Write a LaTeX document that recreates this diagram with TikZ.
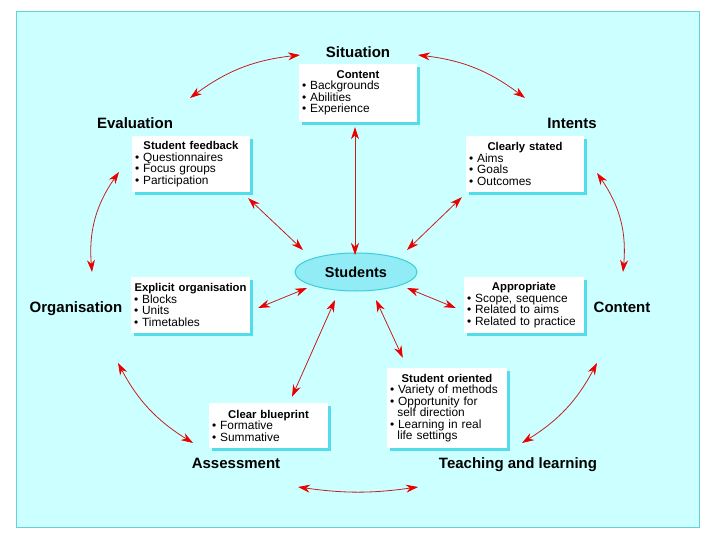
\documentclass[tikz,border=0pt]{standalone}
\usepackage{fontspec}
\setmainfont{Liberation Sans}
\usetikzlibrary{arrows.meta,shapes.geometric,shadows}
\definecolor{bgc}{RGB}{204,255,255}
\definecolor{framec}{RGB}{102,210,215}
\definecolor{shadc}{RGB}{85,220,235}
\definecolor{arrline}{RGB}{200,30,30}
\definecolor{arrhead}{RGB}{235,0,0}
\definecolor{ellfill}{RGB}{145,236,246}
\definecolor{elldraw}{RGB}{60,205,220}
\newcommand{\btitle}[1]{{\centering\bfseries\fontsize{11.3}{11.5}\selectfont #1\par}}
\newcommand{\bitem}[1]{\par\noindent\textbullet\ #1}
\newcommand{\bcont}[1]{\par\noindent\hspace*{0.62em}#1}
\begin{document}
\begin{tikzpicture}[x=1pt,y=-1pt,
  lab/.style={font=\fontsize{15}{18}\selectfont\bfseries, inner sep=0pt, text height=10.8pt, text depth=0pt},
  bx/.style={fill=white, inner sep=3pt, align=left, font=\fontsize{11.9}{11.5}\selectfont,
    drop shadow={shadow xshift=3pt, shadow yshift=-3pt, fill=shadc, opacity=1}},
  arr/.style={draw=arrline, line width=0.8pt,
    {Stealth[length=12pt,width=8pt,color=arrhead]}-{Stealth[length=12pt,width=8pt,color=arrhead]}}]
\useasboundingbox (0,0) rectangle (720,540);
\fill[white] (0,0) rectangle (720,540);
\draw[framec, fill=bgc, line width=1pt] (16,12) rectangle (699,527);

% labels
\node[lab] (sit) at (358,52) {Situation};
\node[lab] (eva) at (135,123) {Evaluation};
\node[lab] (int) at (572,123) {Intents};
\node[lab] (org) at (76,307) {Organisation};
\node[lab] (con) at (622,307) {Content};
\node[lab] (ass) at (236,463) {Assessment};
\node[lab] (tl) at (518,463) {Teaching and learning};

% boxes
\node[bx, text width=112pt, minimum height=58pt] (content) at (358,93)
  {\btitle{Content}\bitem{Backgrounds}\bitem{Abilities}\bitem{Experience}};
\node[bx, text width=112pt, minimum height=56pt] (fb) at (191,164)
  {\btitle{Student feedback}\bitem{Questionnaires}\bitem{Focus groups}\bitem{Participation}};
\node[bx, text width=112pt, minimum height=56pt] (cs) at (525,164)
  {\btitle{Clearly stated}\bitem{Aims}\bitem{Goals}\bitem{Outcomes}};
\node[bx, text width=113pt, minimum height=56pt] (eo) at (190.5,305)
  {\btitle{Explicit organisation}\bitem{Blocks}\bitem{Units}\bitem{Timetables}};
\node[bx, text width=114pt, minimum height=56pt] (ap) at (524,305)
  {\btitle{Appropriate}\bitem{Scope, sequence}\bitem{Related to aims}\bitem{Related to practice}};
\node[bx, text width=114pt, minimum height=80pt] (so) at (447,408)
  {\btitle{Student oriented}\bitem{Variety of methods}\bitem{Opportunity for}\bcont{self direction}\bitem{Learning in real}\bcont{life settings}};
\node[bx, text width=113pt, minimum height=45pt] (cb) at (268.5,425.5)
  {\btitle{Clear blueprint}\bitem{Formative}\bitem{Summative}};

% centre
\node[ellipse, fill=ellfill, draw=elldraw, line width=1pt, minimum width=122pt, minimum height=38pt,
  inner sep=0pt, font=\fontsize{14.5}{17}\selectfont\bfseries] (stu) at (356,272) {Students};

% inner arrows
\draw[arr] ([shift={(-3,5)}]content.south) -- ([shift={(-1,-17)}]stu.center);
\draw[arr] ([shift={(-2,6)}]fb.south east) -- ([shift={(-53,-22)}]stu.center);
\draw[arr] ([shift={(-4,5)}]cs.south west) -- ([shift={(51,-22)}]stu.center);
\draw[arr] ([shift={(8,3)}]eo.east) -- ([shift={(-49,16)}]stu.center);
\draw[arr] ([shift={(-8,3)}]ap.west) -- ([shift={(51,16)}]stu.center);
\draw[arr] ([shift={(16,-10)}]so.north west) -- ([shift={(20,28)}]stu.center);
\draw[arr] ([shift={(23.5,-6)}]cb.north) -- ([shift={(-21,28)}]stu.center);

% outer arcs
\draw[arr] ([shift={(55,-25)}]eva.center) to[bend left=15] ([shift={(-58,3)}]sit.center);
\draw[arr] ([shift={(60,3)}]sit.center) to[bend left=15] ([shift={(-47,-25)}]int.center);
\draw[arr] ([shift={(16,-35)}]org.center) to[bend left=20] ([shift={(-16,49)}]eva.center);
\draw[arr] ([shift={(25,50)}]int.center) to[bend left=20] ([shift={(1,-35)}]con.center);
\draw[arr] ([shift={(-43,-20)}]ass.center) to[bend left=15] ([shift={(42,56)}]org.center);
\draw[arr] ([shift={(-25,56)}]con.center) to[bend left=15] ([shift={(4,-20)}]tl.center);
\draw[arr] ([shift={(-100,24)}]tl.center) to[bend left=8] ([shift={(62,24)}]ass.center);
\end{tikzpicture}
\end{document}
